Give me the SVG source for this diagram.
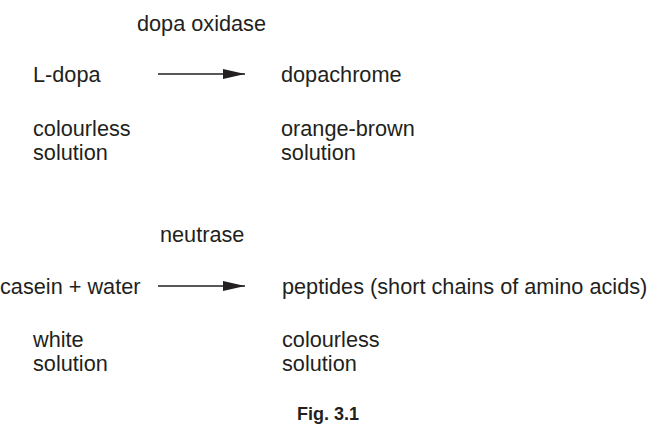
<svg xmlns="http://www.w3.org/2000/svg" width="656" height="430" viewBox="0 0 656 430">
<style>
text{font-family:"Liberation Sans",Arial,sans-serif;font-size:21.7px;fill:#231f20}
text.cap{font-size:18px;font-weight:bold}
.ln{stroke:#231f20;stroke-width:1.5;fill:none}
</style>
<defs><marker id="ah" markerWidth="22" markerHeight="10" refX="22" refY="5" orient="auto" markerUnits="userSpaceOnUse"><path d="M0,0L22,5L0,10z" fill="#231f20"/></marker></defs>
<rect width="656" height="430" fill="#fff"/>
<g id="connectors">
<line class="ln" x1="158" y1="74" x2="245" y2="74" marker-end="url(#ah)"/>
<line class="ln" x1="158" y1="286" x2="245" y2="286" marker-end="url(#ah)"/>
</g>
<g id="enzyme1"><text x="137" y="31">dopa oxidase</text></g>
<g id="ldopa"><text x="33" y="82">L-dopa</text><text x="33" y="136">colourless</text><text x="33" y="160">solution</text></g>
<g id="dopachrome"><text x="281" y="82">dopachrome</text><text x="281" y="136">orange-brown</text><text x="281" y="160">solution</text></g>
<g id="enzyme2"><text x="160" y="242">neutrase</text></g>
<g id="casein"><text x="0" y="294">casein + water</text><text x="33" y="347">white</text><text x="33" y="371">solution</text></g>
<g id="peptides"><text x="282" y="294">peptides (short chains of amino acids)</text><text x="282" y="347">colourless</text><text x="282" y="371">solution</text></g>
<g id="caption"><text class="cap" x="328" y="420" text-anchor="middle">Fig. 3.1</text></g>
</svg>
